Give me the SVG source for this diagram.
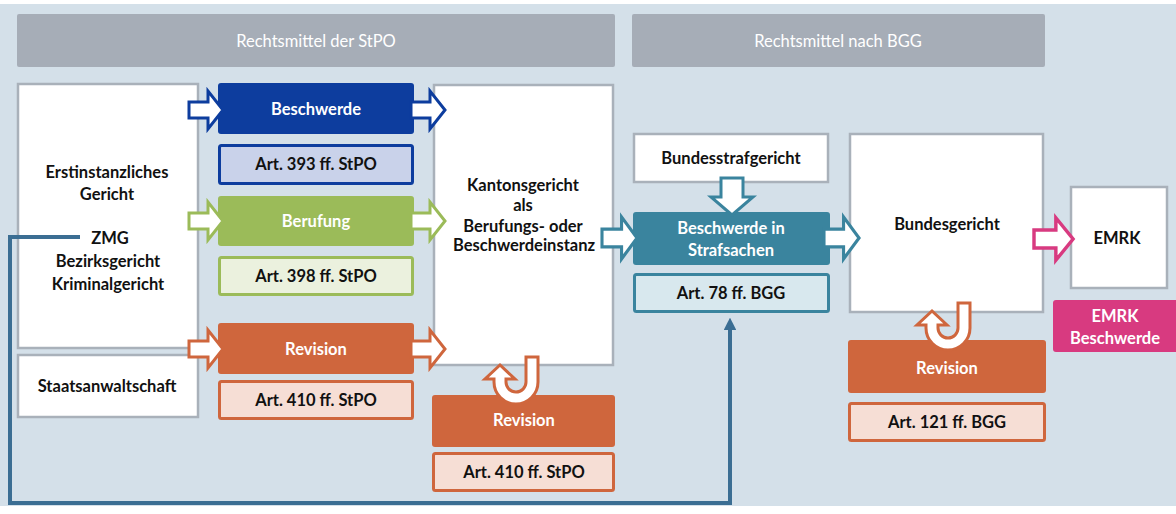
<svg xmlns="http://www.w3.org/2000/svg" xmlns:xlink="http://www.w3.org/1999/xlink" width="1176" height="514" viewBox="0 0 1176 514">
  <style>
    text { font-family: Lato, "Open Sans", "Liberation Sans", sans-serif; text-anchor: middle; dominant-baseline: central; }
    .lbl { font-size: 16.5px; font-weight: 700; fill: #111; }
    .wlbl { font-size: 16.5px; font-weight: 700; fill: #fff; }
    .hdr { font-size: 16.5px; fill: #fff; }
    .court { fill: #fff; stroke: #a9b1ba; stroke-width: 2.5; }
    .hbar { fill: #a6adb7; }
    .blue { fill: #0d3d9e; }
    .blue-l { fill: #c9d2ea; stroke: #0d3d9e; stroke-width: 3; }
    .green { fill: #9bbb59; }
    .green-l { fill: #ebf1de; stroke: #9bbb59; stroke-width: 3; }
    .orange { fill: #cf663d; }
    .orange-l { fill: #f6ded5; stroke: #cf663d; stroke-width: 3; }
    .teal { fill: #3a849e; }
    .teal-l { fill: #d8e8ee; stroke: #3a849e; stroke-width: 3; }
    .pink { fill: #d83a80; }
    .arr { fill: #fff; stroke-width: 3; stroke-linejoin: miter; }
    .a-blue { stroke: #0d3d9e; }
    .a-green { stroke: #9bbb59; }
    .a-orange { stroke: #cf663d; }
    .a-teal { stroke: #3a849e; }
    .a-pink { stroke: #d83a80; }
    .route { fill: none; stroke: #3b6e93; stroke-width: 4; }
  </style>
  <defs>
    <!-- hollow block arrow pointing right, origin at the tail centre -->
    <path id="blk" d="M0,-8 H19 V-19 L34,0 L19,19 V8 H0 Z"/>
    <!-- U-turn arrow, origin at the outer top of the right stem -->
    <path id="uturn" d="M0,0 V25 A22,22 0 0 1 -44,25 V22 H-53 L-38,8 L-23,22 H-32 V25 A10,10 0 0 0 -12,25 V0 Z"/>
    <marker id="tip" viewBox="0 0 10 10" refX="5" refY="5" markerWidth="3.2" markerHeight="3.2" orient="auto">
      <path d="M0,0 L10,5 L0,10 Z" fill="#3b6e93"/>
    </marker>
  </defs>

  <!-- backdrop -->
  <rect x="0" y="0" width="1176" height="514" fill="#ffffff"/>
  <rect x="0" y="4" width="1176" height="502" fill="#d4e0e9"/>

  <!-- section headers -->
  <g id="hdr-stpo">
    <rect class="hbar" x="17" y="14" width="598" height="53" rx="2"/>
    <text class="hdr" x="316" y="41">Rechtsmittel der StPO</text>
  </g>
  <g id="hdr-bgg">
    <rect class="hbar" x="632" y="14" width="413" height="53" rx="2"/>
    <text class="hdr" x="838" y="41">Rechtsmittel nach BGG</text>
  </g>

  <!-- first instance -->
  <g id="erstinstanz">
    <rect class="court" x="18" y="84" width="180" height="264"/>
    <text class="lbl" x="107" y="172">Erstinstanzliches</text>
    <text class="lbl" x="107" y="194">Gericht</text>
    <text class="lbl" x="110" y="238">ZMG</text>
    <text class="lbl" x="108" y="261">Bezirksgericht</text>
    <text class="lbl" x="108" y="284">Kriminalgericht</text>
  </g>
  <g id="staatsanwaltschaft">
    <rect class="court" x="18" y="355" width="180" height="62"/>
    <text class="lbl" x="107" y="386">Staatsanwaltschaft</text>
  </g>

  <!-- StPO remedies -->
  <g id="beschwerde">
    <rect class="blue" x="218" y="83" width="196" height="51" rx="3"/>
    <text class="wlbl" x="316" y="109">Beschwerde</text>
  </g>
  <g id="art393">
    <rect class="blue-l" x="219.5" y="145.5" width="193" height="38" rx="2"/>
    <text class="lbl" x="316" y="164">Art. 393 ff. StPO</text>
  </g>
  <g id="berufung">
    <rect class="green" x="218" y="196" width="196" height="50" rx="3"/>
    <text class="wlbl" x="316" y="221">Berufung</text>
  </g>
  <g id="art398">
    <rect class="green-l" x="219.5" y="257.5" width="193" height="37" rx="2"/>
    <text class="lbl" x="316" y="276">Art. 398 ff. StPO</text>
  </g>
  <g id="revision-stpo">
    <rect class="orange" x="218" y="323" width="196" height="51" rx="3"/>
    <text class="wlbl" x="316" y="349">Revision</text>
  </g>
  <g id="art410">
    <rect class="orange-l" x="219.5" y="381.5" width="193" height="37" rx="2"/>
    <text class="lbl" x="316" y="400">Art. 410 ff. StPO</text>
  </g>

  <!-- cantonal appeal court -->
  <g id="kantonsgericht">
    <rect class="court" x="434" y="85" width="179" height="280"/>
    <text class="lbl" x="523" y="185">Kantonsgericht</text>
    <text class="lbl" x="523" y="205">als</text>
    <text class="lbl" x="523" y="226">Berufungs- oder</text>
    <text class="lbl" x="524" y="245">Beschwerdeinstanz</text>
  </g>
  <g id="revision-kanton">
    <rect class="orange" x="432" y="395" width="183" height="52" rx="3"/>
    <text class="wlbl" x="524" y="420">Revision</text>
  </g>
  <g id="art410-kanton">
    <rect class="orange-l" x="433.5" y="453.5" width="180" height="37" rx="2"/>
    <text class="lbl" x="524" y="472">Art. 410 ff. StPO</text>
  </g>

  <!-- federal level -->
  <g id="bundesstrafgericht">
    <rect class="court" x="634" y="134" width="194" height="48"/>
    <text class="lbl" x="731" y="158">Bundesstrafgericht</text>
  </g>
  <g id="beschwerde-strafsachen">
    <rect class="teal" x="633" y="212" width="197" height="53" rx="3"/>
    <text class="wlbl" x="731" y="228">Beschwerde in</text>
    <text class="wlbl" x="731" y="250">Strafsachen</text>
  </g>
  <g id="art78">
    <rect class="teal-l" x="634.5" y="274.5" width="194" height="37" rx="2"/>
    <text class="lbl" x="731" y="293">Art. 78 ff. BGG</text>
  </g>
  <g id="bundesgericht">
    <rect class="court" x="850" y="134" width="193" height="178"/>
    <text class="lbl" x="947" y="224">Bundesgericht</text>
  </g>
  <g id="revision-bgg">
    <rect class="orange" x="848" y="340" width="198" height="53" rx="3"/>
    <text class="wlbl" x="947" y="368">Revision</text>
  </g>
  <g id="art121">
    <rect class="orange-l" x="849.5" y="403.5" width="195" height="37" rx="2"/>
    <text class="lbl" x="947" y="422">Art. 121 ff. BGG</text>
  </g>
  <g id="emrk">
    <rect class="court" x="1071" y="187" width="96" height="101"/>
    <text class="lbl" x="1117" y="238">EMRK</text>
  </g>
  <g id="emrk-beschwerde">
    <rect class="pink" x="1053" y="300" width="125" height="52" rx="3"/>
    <text class="wlbl" x="1115" y="316">EMRK</text>
    <text class="wlbl" x="1115" y="338">Beschwerde</text>
  </g>

  <!-- connectors -->
  <g id="connectors">
    <use xlink:href="#blk" class="arr a-blue" transform="translate(189,110)"/>
    <use xlink:href="#blk" class="arr a-blue" transform="translate(411,110)"/>
    <use xlink:href="#blk" class="arr a-green" transform="translate(189,221)"/>
    <use xlink:href="#blk" class="arr a-green" transform="translate(411,221)"/>
    <use xlink:href="#blk" class="arr a-orange" transform="translate(189,349)"/>
    <use xlink:href="#blk" class="arr a-orange" transform="translate(411,349)"/>
    <use xlink:href="#blk" class="arr a-teal" transform="translate(602,238) scale(1.03,1.1)"/>
    <use xlink:href="#blk" class="arr a-teal" transform="translate(824,238) scale(1.03,1.1)"/>
    <use xlink:href="#blk" class="arr a-pink" transform="translate(1034,239) scale(1.15,1.12)"/>
    <path class="arr a-teal" d="M721,178 H743 V197 H753 L732,215 L711,197 H721 Z"/>
    <use xlink:href="#uturn" class="arr a-orange" transform="translate(538,357)"/>
    <use xlink:href="#uturn" class="arr a-orange" transform="translate(970,303)"/>
    <polyline class="route" points="80,237 10,237 10,503 730,503 730,324" marker-end="url(#tip)"/>
  </g>
</svg>
